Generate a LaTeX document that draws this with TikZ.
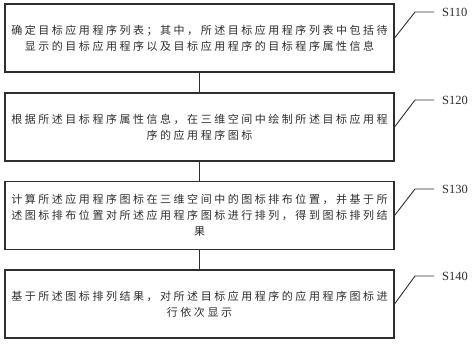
\documentclass[tikz,border=0pt]{standalone}
\usepackage{fontspec}
\setmainfont{Liberation Serif}
\newfontfamily\cjk[LetterSpace=23]{Noto Sans CJK SC}
\definecolor{ink}{HTML}{2E2E2E}
\begin{document}
\begin{tikzpicture}[x=1pt,y=-1pt,
  stepbox/.style={draw=ink,line width=1.1pt,minimum width=389pt,minimum height=68pt,inner sep=0pt,
    align=center,text=ink,font=\cjk\fontsize{11}{16}\selectfont},
  conn/.style={draw=ink,line width=0.9pt},
  lbl/.style={anchor=west,inner sep=0pt,text=ink,font=\fontsize{12.5}{14}\selectfont}]
\useasboundingbox (0,0) rectangle (474,343);
\node[stepbox] (b1) at (199.5,38) {确定目标应用程序列表；其中，所述目标应用程序列表中包括待\\显示的目标应用程序以及目标应用程序的目标程序属性信息};
\node[stepbox] (b2) at (199.5,127) {根据所述目标程序属性信息，在三维空间中绘制所述目标应用程\\序的应用程序图标};
\node[stepbox] (b3) at (199.5,215.5) {计算所述应用程序图标在三维空间中的图标排布位置，并基于所\\述图标排布位置对所述应用程序图标进行排列，得到图标排列结\\果};
\node[stepbox] (b4) at (199.5,304) {基于所述图标排列结果，对所述目标应用程序的应用程序图标进\\行依次显示};
\draw[conn] (b1) -- (b2);
\draw[conn] (b2) -- (b3);
\draw[conn] (b3) -- (b4);
\node[lbl] (l1) at (442,12) {S110};
\node[lbl] (l2) at (442,100) {S120};
\node[lbl] (l3) at (442,189) {S130};
\node[lbl] (l4) at (442,276) {S140};
\coordinate (k1) at (415,12);
\coordinate (k2) at (415,100);
\coordinate (k3) at (415,189);
\coordinate (k4) at (415,276);
\draw[conn] (b1.east) -- (k1) -- ([xshift=-8pt]l1.west);
\draw[conn] (b2.east) -- (k2) -- ([xshift=-8pt]l2.west);
\draw[conn] (b3.east) -- (k3) -- ([xshift=-8pt]l3.west);
\draw[conn] (b4.east) -- (k4) -- ([xshift=-8pt]l4.west);
\end{tikzpicture}
\end{document}
